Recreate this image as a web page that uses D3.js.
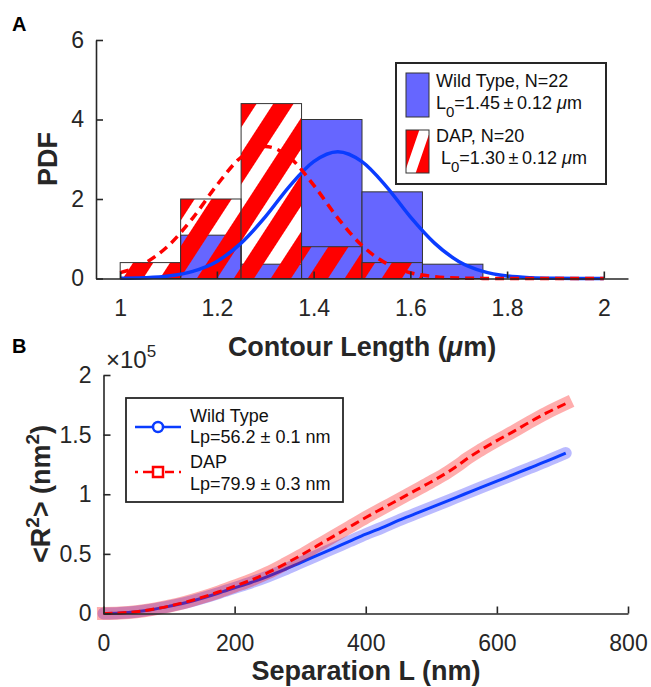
<!DOCTYPE html>
<html>
<head>
<meta charset="utf-8">
<script src="https://cdn.jsdelivr.net/npm/d3@7"></script>
<style>
    body { margin: 0; background: #fff; }
    svg { font-family: "Liberation Sans", Arial, Helvetica, sans-serif; }
</style>
</head>
<body>
<div id="chart"></div>
<script>
// ---- panel A: contour length histograms ----
var binEdges = [1.0, 1.125, 1.25, 1.375, 1.5, 1.625, 1.75];
var wtPdf = [0, 1.09, 0.36, 4.0, 2.18, 0.36];
var dapPdf = [0.4, 2.0, 4.4, 0.8, 0.4, 0];

var fitX = [1.0, 1.05, 1.1, 1.15, 1.2, 1.25, 1.3, 1.35, 1.4, 1.45, 1.5,
    1.55, 1.6, 1.65, 1.7, 1.75, 1.8, 1.85, 1.9, 1.95, 2.0];
var wtFit = [0.005, 0.019, 0.063, 0.18, 0.43, 0.89, 1.55, 2.32, 2.94, 3.19, 2.94,
    2.32, 1.55, 0.89, 0.43, 0.18, 0.063, 0.019, 0.005, 0.001, 0];
var dapFit = [0.146, 0.38, 0.83, 1.52, 2.35, 3.05, 3.32, 3.05, 2.35, 1.52, 0.83,
    0.38, 0.146, 0.047, 0.013, 0.003, 0.0005, 0, 0, 0, 0];

var xTicksA = [1, 1.2, 1.4, 1.6, 1.8, 2];
var yTicksA = [0, 2, 4, 6];

// ---- panel B: mean squared end-to-end distance ----
var sepWT = [0, 25, 50, 75, 100, 125, 150, 175, 200, 225, 250, 275, 300, 325, 350,
    375, 400, 425, 450, 475, 500, 525, 550, 575, 600, 625, 650, 675, 705];
var r2WT = [0, 400, 1500, 3400, 6000, 9000, 12800, 17000, 21500, 26000, 31000, 36500,
    42500, 48500, 54500, 60500, 66500, 72000, 78000, 83500, 89000, 94500, 100000,
    105500, 111000, 116500, 122000, 127500, 134500];

var sepDAP = [0, 25, 50, 75, 100, 125, 150, 175, 200, 225, 250, 275, 300, 325, 350,
    375, 400, 425, 450, 475, 500, 525, 540, 555, 575, 600, 625, 650, 675, 705];
var r2DAP = [0, 400, 1500, 3500, 6200, 9500, 13500, 18000, 23000, 28000, 34000, 41000,
    48500, 56500, 64500, 72500, 80500, 88000, 95500, 103000, 110500, 118500, 124000,
    130000, 137000, 145000, 152500, 160500, 168000, 176000];

var xTicksB = [0, 200, 400, 600, 800];
var yTicksB = [0, 50000, 100000, 150000, 200000];

var textColor = "#262626";
var blue = "#0a3cff";
var red = "#ff0000";

var svg = d3.select("#chart").append("svg")
    .attr("width", 651)
    .attr("height", 687);

var defs = svg.append("defs");
defs.append("pattern")
    .attr("id", "hatch")
    .attr("patternUnits", "userSpaceOnUse")
    .attr("width", 31)
    .attr("height", 31)
    .attr("patternTransform", "translate(8,0) rotate(33)")
    .append("rect")
    .attr("width", 17)
    .attr("height", 31)
    .attr("fill", red);

function styleAxis(g) {
    g.select(".domain").attr("stroke", textColor).attr("stroke-width", 1.6);
    g.selectAll(".tick line").attr("stroke", textColor).attr("stroke-width", 1.6);
    g.selectAll(".tick text")
        .attr("fill", textColor)
        .style("font-size", "23px");
}

function drawPanelA() {
    var x = d3.scaleLinear().domain([0.95, 2.05]).range([96, 628]);
    var y = d3.scaleLinear().domain([0, 6]).range([278.5, 40]);

    var bins = binEdges.slice(0, -1).map(function (e, i) {
        return {x0: e, x1: binEdges[i + 1], wt: wtPdf[i], dap: dapPdf[i]};
    });

    // wild type bars
    svg.append("g").selectAll("rect")
        .data(bins.filter(function (d) { return d.wt > 0; }))
        .enter().append("rect")
        .attr("x", function (d) { return x(d.x0); })
        .attr("width", function (d) { return x(d.x1) - x(d.x0); })
        .attr("y", function (d) { return y(d.wt); })
        .attr("height", function (d) { return y(0) - y(d.wt); })
        .attr("fill", "#6666ff")
        .attr("stroke", "#333")
        .attr("stroke-width", 1);

    // DAP hatched bars on top
    svg.append("g").selectAll("rect")
        .data(bins.filter(function (d) { return d.dap > 0; }))
        .enter().append("rect")
        .attr("x", function (d) { return x(d.x0); })
        .attr("width", function (d) { return x(d.x1) - x(d.x0); })
        .attr("y", function (d) { return y(d.dap); })
        .attr("height", function (d) { return y(0) - y(d.dap); })
        .attr("fill", "url(#hatch)")
        .attr("stroke", "#333")
        .attr("stroke-width", 1);

    var line = d3.line()
        .x(function (d) { return x(d[0]); })
        .y(function (d) { return y(d[1]); })
        .curve(d3.curveMonotoneX);

    svg.append("path")
        .attr("d", line(d3.zip(fitX, wtFit)))
        .attr("fill", "none")
        .attr("stroke", blue)
        .attr("stroke-width", 3.5);

    svg.append("path")
        .attr("d", line(d3.zip(fitX, dapFit)))
        .attr("fill", "none")
        .attr("stroke", red)
        .attr("stroke-width", 3.5)
        .attr("stroke-dasharray", "9,6");

    svg.append("g")
        .attr("transform", "translate(0," + y(0) + ")")
        .call(d3.axisBottom(x).tickValues(xTicksA).tickSizeInner(-7).tickSizeOuter(0)
            .tickPadding(21).tickFormat(d3.format("")))
        .call(styleAxis);

    svg.append("g")
        .attr("transform", "translate(" + x(0.95) + ",0)")
        .call(d3.axisLeft(y).tickValues(yTicksA).tickSizeInner(-7).tickSizeOuter(0)
            .tickPadding(12).tickFormat(d3.format("")))
        .call(styleAxis);

    // axis labels
    svg.append("text")
        .attr("transform", "translate(57,159) rotate(-90)")
        .attr("text-anchor", "middle")
        .attr("fill", textColor)
        .style("font-size", "27px").style("font-weight", "bold")
        .text("PDF");

    var xl = svg.append("text")
        .attr("x", 362).attr("y", 356)
        .attr("text-anchor", "middle")
        .attr("fill", textColor)
        .style("font-size", "27px").style("font-weight", "bold");
    xl.append("tspan").text("Contour Length (");
    xl.append("tspan").style("font-style", "italic").text("μ");
    xl.append("tspan").text("m)");

    svg.append("text")
        .attr("x", 12).attr("y", 31)
        .style("font-size", "20px").style("font-weight", "bold")
        .text("A");

    // legend
    var lg = svg.append("g");
    lg.append("rect")
        .attr("x", 396).attr("y", 63).attr("width", 210).attr("height", 121)
        .attr("fill", "#fff").attr("stroke", textColor).attr("stroke-width", 2);
    lg.append("rect")
        .attr("x", 406).attr("y", 73).attr("width", 23).attr("height", 44)
        .attr("fill", "#6666ff").attr("stroke", "#333");
    var px = 406, py = 130, pw = 23, ph = 43;
    lg.append("rect")
        .attr("x", px).attr("y", py).attr("width", pw).attr("height", ph)
        .attr("fill", red);
    lg.append("polygon")
        .attr("points", [[px + 0.58 * pw, py], [px + pw, py], [px + pw, py + 0.1 * ph],
            [px + 0.42 * pw, py + ph], [px, py + ph], [px, py + 0.9 * ph]].join(" "))
        .attr("fill", "#fff");
    lg.append("rect")
        .attr("x", px).attr("y", py).attr("width", pw).attr("height", ph)
        .attr("fill", "none").attr("stroke", "#333");

    function legText(yb, parts) {
        var t = lg.append("text")
            .attr("x", 436).attr("y", yb)
            .attr("fill", "#111")
            .style("font-size", "18px");
        parts.forEach(function (p) {
            var s = t.append("tspan").text(p.t);
            if (p.sub) s.attr("dy", 8).style("font-size", "15px");
            if (p.back) s.attr("dy", -8);
            if (p.it) s.style("font-style", "italic");
        });
    }
    legText(86.7, [{t: "Wild Type, N=22"}]);
    legText(109.3, [{t: "L"}, {t: "0", sub: true}, {t: "=1.45\u2009±\u20090.12 ", back: true},
        {t: "μ", it: true}, {t: "m"}]);
    legText(141.7, [{t: "DAP, N=20"}]);
    legText(164.3, [{t: "\u00a0L"}, {t: "0", sub: true}, {t: "=1.30\u2009±\u20090.12 ", back: true},
        {t: "μ", it: true}, {t: "m"}]);
}

function drawPanelB() {
    var x = d3.scaleLinear().domain([0, 800]).range([103.5, 628]);
    var y = d3.scaleLinear().domain([0, 200000]).range([613.5, 375]);

    var line = d3.line()
        .x(function (d) { return x(d[0]); })
        .y(function (d) { return y(d[1]); })
        .curve(d3.curveMonotoneX);

    var wt = d3.zip(sepWT, r2WT);
    var dap = d3.zip(sepDAP, r2DAP);

    // marker bands
    svg.append("path")
        .attr("d", line(wt))
        .attr("fill", "none")
        .attr("stroke", "#0000ff").attr("stroke-opacity", 0.27)
        .attr("stroke-width", 12).attr("stroke-linecap", "round");
    svg.append("path")
        .attr("d", line(wt))
        .attr("fill", "none")
        .attr("stroke", blue).attr("stroke-width", 3);

    svg.append("path")
        .attr("d", line(dap))
        .attr("fill", "none")
        .attr("stroke", "#ff0000").attr("stroke-opacity", 0.32)
        .attr("stroke-width", 13).attr("stroke-linecap", "square");
    svg.append("path")
        .attr("d", line(dap))
        .attr("fill", "none")
        .attr("stroke", red).attr("stroke-width", 3)
        .attr("stroke-dasharray", "9,5");

    svg.append("g")
        .attr("transform", "translate(0," + y(0) + ")")
        .call(d3.axisBottom(x).tickValues(xTicksB).tickSizeInner(-7).tickSizeOuter(0)
            .tickPadding(21))
        .call(styleAxis);

    svg.append("g")
        .attr("transform", "translate(" + x(0) + ",0)")
        .call(d3.axisLeft(y).tickValues(yTicksB).tickSizeInner(-7).tickSizeOuter(0)
            .tickPadding(12).tickFormat(function (d) { return d / 1e5; }))
        .call(styleAxis);

    var mult = svg.append("text")
        .attr("x", 106).attr("y", 368)
        .attr("fill", textColor)
        .style("font-size", "24px");
    mult.append("tspan").text("×10");
    mult.append("tspan").attr("dy", -11).style("font-size", "17px").text("5");

    var yl = svg.append("text")
        .attr("transform", "translate(50,494) rotate(-90)")
        .attr("text-anchor", "middle")
        .attr("fill", textColor)
        .style("font-size", "27px").style("font-weight", "bold");
    yl.append("tspan").text("<R");
    yl.append("tspan").attr("dy", -11).style("font-size", "19px").text("2");
    yl.append("tspan").attr("dy", 11).text("> (nm");
    yl.append("tspan").attr("dy", -11).style("font-size", "19px").text("2");
    yl.append("tspan").attr("dy", 11).text(")");

    svg.append("text")
        .attr("x", 366).attr("y", 680)
        .attr("text-anchor", "middle")
        .attr("fill", textColor)
        .style("font-size", "27px").style("font-weight", "bold")
        .text("Separation L (nm)");

    svg.append("text")
        .attr("x", 12).attr("y", 353)
        .style("font-size", "20px").style("font-weight", "bold")
        .text("B");

    // legend
    var lg = svg.append("g");
    lg.append("rect")
        .attr("x", 126).attr("y", 398).attr("width", 217).attr("height", 104)
        .attr("fill", "#fff").attr("stroke", textColor).attr("stroke-width", 1.8);
    lg.append("line")
        .attr("x1", 135).attr("x2", 181).attr("y1", 427).attr("y2", 427)
        .attr("stroke", blue).attr("stroke-width", 2.5);
    lg.append("circle")
        .attr("cx", 158).attr("cy", 427).attr("r", 5)
        .attr("fill", "#fff").attr("stroke", blue).attr("stroke-width", 2.5);
    lg.append("line")
        .attr("x1", 135).attr("x2", 181).attr("y1", 472).attr("y2", 472)
        .attr("stroke", red).attr("stroke-width", 2.5)
        .attr("stroke-dasharray", "3,5,9,5");
    lg.append("rect")
        .attr("x", 153).attr("y", 467).attr("width", 10).attr("height", 10)
        .attr("fill", "#fff").attr("stroke", red).attr("stroke-width", 2.5);

    [["Wild Type", 421.7], ["Lp=56.2 ± 0.1 nm", 443.3], ["DAP", 468.3], ["Lp=79.9 ± 0.3 nm", 490]]
        .forEach(function (d) {
            lg.append("text")
                .attr("x", 190).attr("y", d[1])
                .attr("fill", "#111")
                .style("font-size", "18px")
                .text(d[0]);
        });
}

drawPanelA();
drawPanelB();
</script>
</body>
</html>
